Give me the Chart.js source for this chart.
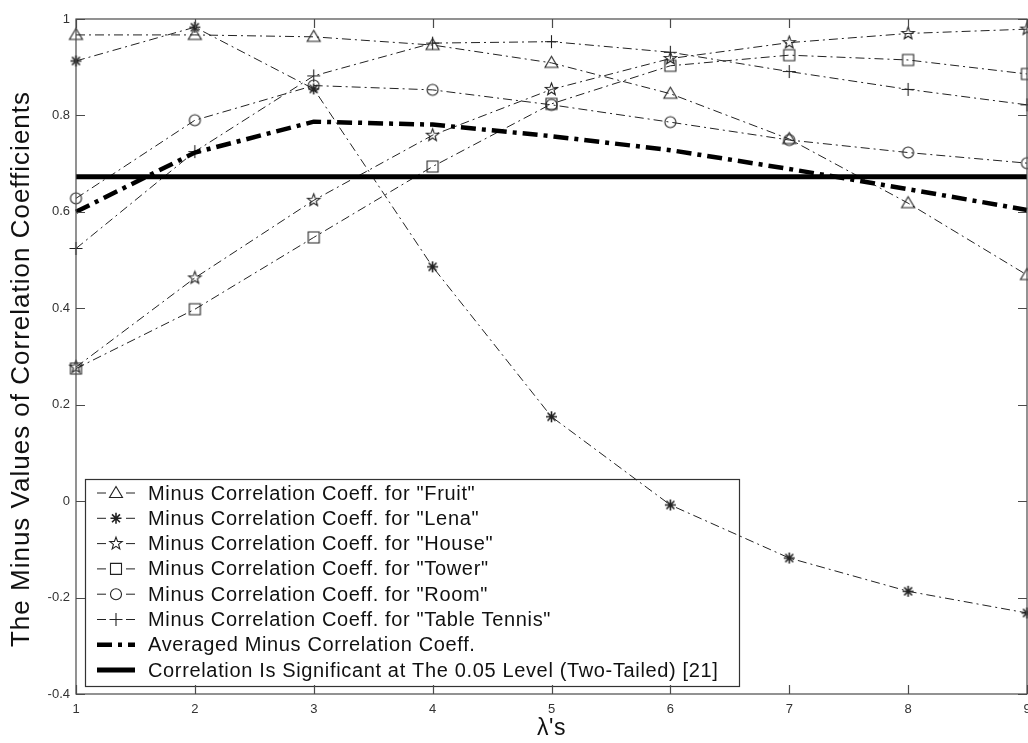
<!DOCTYPE html>
<html>
<head>
<meta charset="utf-8">
<title>Minus Correlation Coefficients vs λ</title>
<script src="https://cdn.jsdelivr.net/npm/chart.js@4.4.1/dist/chart.umd.min.js"></script>
<style>
  html, body { margin: 0; padding: 0; background: #ffffff; overflow: hidden; }
  #wrap { width: 1028px; height: 743px; position: relative; }
  canvas { display: block; }
</style>
</head>
<body>
<div id="wrap"><canvas id="chart" width="1028" height="743"></canvas></div>
<script>
// λ values along the horizontal axis
const lambdas = [1, 2, 3, 4, 5, 6, 7, 8, 9];

// minus correlation coefficient per test image
const fruit  = [0.967, 0.967, 0.963, 0.946, 0.909, 0.845, 0.751, 0.618, 0.469];
const lena   = [0.913, 0.983, 0.855, 0.486, 0.175, -0.008, -0.118, -0.187, -0.232];
const house  = [0.278, 0.463, 0.624, 0.759, 0.854, 0.918, 0.951, 0.970, 0.979];
const tower  = [0.275, 0.398, 0.547, 0.694, 0.824, 0.903, 0.925, 0.915, 0.886];
const room   = [0.628, 0.790, 0.862, 0.853, 0.822, 0.786, 0.749, 0.723, 0.701];
const tennis = [0.524, 0.725, 0.882, 0.950, 0.953, 0.931, 0.891, 0.854, 0.822];
const averaged = [0.600, 0.723, 0.787, 0.781, 0.757, 0.728, 0.689, 0.647, 0.604];
const significanceLevel = 0.673;

// axis ticks
const xTicks = [1, 2, 3, 4, 5, 6, 7, 8, 9];
const yTicks = [-0.4, -0.2, 0, 0.2, 0.4, 0.6, 0.8, 1];

// axis titles
const xTitle = "λ's";
const yTitle = 'The Minus Values of Correlation Coefficients';

// legend texts
const seriesNames = [
  'Minus Correlation Coeff. for "Fruit"',
  'Minus Correlation Coeff. for "Lena"',
  'Minus Correlation Coeff. for "House"',
  'Minus Correlation Coeff. for "Tower"',
  'Minus Correlation Coeff. for "Room"',
  'Minus Correlation Coeff. for "Table Tennis"',
  'Averaged Minus Correlation Coeff.',
  'Correlation Is Significant at The 0.05 Level (Two-Tailed) [21]'
];

const FONT = '"Liberation Sans", Arial, Helvetica, sans-serif';
const INK = '#222222';
const AXIS = '#4a4a4a';

// ---- hollow marker glyphs ----
function drawGlyph(ctx, type, cx, cy) {
  ctx.save();
  ctx.strokeStyle = INK;
  ctx.lineWidth = 1.1;
  ctx.setLineDash([]);
  ctx.beginPath();
  if (type === 'triangle') {
    ctx.moveTo(cx, cy - 6.5);
    ctx.lineTo(cx + 6.5, cy + 4.5);
    ctx.lineTo(cx - 6.5, cy + 4.5);
    ctx.closePath();
  } else if (type === 'asterisk') {
    const r = 5.5, d = r * 0.72;
    ctx.moveTo(cx - r, cy); ctx.lineTo(cx + r, cy);
    ctx.moveTo(cx, cy - r); ctx.lineTo(cx, cy + r);
    ctx.moveTo(cx - d, cy - d); ctx.lineTo(cx + d, cy + d);
    ctx.moveTo(cx - d, cy + d); ctx.lineTo(cx + d, cy - d);
    ctx.lineWidth = 1.6;
  } else if (type === 'pentagram') {
    const ro = 6.5, ri = 2.7;
    for (let i = 0; i < 10; i++) {
      const r = i % 2 === 0 ? ro : ri;
      const a = -Math.PI / 2 + i * Math.PI / 5;
      const px = cx + r * Math.cos(a), py = cy + r * Math.sin(a);
      if (i === 0) ctx.moveTo(px, py); else ctx.lineTo(px, py);
    }
    ctx.closePath();
  } else if (type === 'square') {
    ctx.rect(cx - 5.5, cy - 5.5, 11, 11);
  } else if (type === 'circle') {
    ctx.arc(cx, cy, 5.5, 0, Math.PI * 2);
  } else if (type === 'plus') {
    ctx.moveTo(cx - 6.5, cy); ctx.lineTo(cx + 6.5, cy);
    ctx.moveTo(cx, cy - 6.5); ctx.lineTo(cx, cy + 6.5);
  }
  ctx.stroke();
  ctx.restore();
}

function glyphCanvas(type) {
  const c = document.createElement('canvas');
  c.width = 17; c.height = 17;
  drawGlyph(c.getContext('2d'), type, 8.5, 8.5);
  return c;
}

const markerTypes = ['triangle', 'asterisk', 'pentagram', 'square', 'circle', 'plus'];
const seriesValues = [fruit, lena, house, tower, room, tennis];

const toPoints = vals => lambdas.map((x, i) => ({ x: x, y: vals[i] }));

const datasets = seriesValues.map((vals, i) => ({
  label: seriesNames[i],
  data: toPoints(vals),
  borderColor: INK,
  borderWidth: 1,
  borderDash: [9, 4, 2, 4],
  pointStyle: glyphCanvas(markerTypes[i]),
  pointRadius: 6,
  pointHoverRadius: 6,
  backgroundColor: 'rgba(0,0,0,0)',
  tension: 0,
  clip: false,
  order: 3
}));

datasets.push({
  label: seriesNames[6],
  data: toPoints(averaged),
  borderColor: '#000000',
  borderWidth: 4.5,
  borderDash: [15, 6, 4, 6],
  borderCapStyle: 'butt',
  pointRadius: 0,
  tension: 0,
  clip: false,
  order: 2
});

datasets.push({
  label: seriesNames[7],
  data: [{ x: lambdas[0], y: significanceLevel }, { x: lambdas[lambdas.length - 1], y: significanceLevel }],
  borderColor: '#000000',
  borderWidth: 5,
  pointRadius: 0,
  tension: 0,
  clip: false,
  order: 1
});

// boxed legend, drawn beneath the data lines (they show through it)
const legendPlugin = {
  id: 'legendPlugin',
  beforeDatasetsDraw(chart) {
    const { ctx } = chart;
    ctx.save();
    const box = { left: 85.5, top: 479.5, right: 739.5, bottom: 686.5 };
    ctx.strokeStyle = '#333333';
    ctx.lineWidth = 1.2;
    ctx.setLineDash([]);
    ctx.strokeRect(box.left, box.top, box.right - box.left, box.bottom - box.top);

    const rowTop = 493, rowStep = 25.3;
    const sx0 = 97, sx1 = 135, textX = 148;
    ctx.font = '20px ' + FONT;
    ctx.letterSpacing = '0.65px';
    ctx.textBaseline = 'middle';
    ctx.textAlign = 'left';
    seriesNames.forEach((name, i) => {
      const y = rowTop + i * rowStep;
      ctx.strokeStyle = INK;
      if (i < 6) {
        ctx.lineWidth = 1;
        ctx.beginPath();
        ctx.moveTo(sx0, y); ctx.lineTo(sx0 + 9, y);
        ctx.moveTo(sx1 - 9, y); ctx.lineTo(sx1, y);
        ctx.stroke();
        drawGlyph(ctx, markerTypes[i], (sx0 + sx1) / 2, y);
      } else if (i === 6) {
        ctx.strokeStyle = '#000000';
        ctx.lineWidth = 4.5;
        ctx.setLineDash([15, 6, 4, 6]);
        ctx.beginPath();
        ctx.moveTo(sx0, y); ctx.lineTo(sx1, y);
        ctx.stroke();
        ctx.setLineDash([]);
      } else {
        ctx.strokeStyle = '#000000';
        ctx.lineWidth = 5;
        ctx.beginPath();
        ctx.moveTo(sx0, y); ctx.lineTo(sx1, y);
        ctx.stroke();
      }
      ctx.fillStyle = '#111111';
      ctx.fillText(name, textX, y + 1);
    });
    ctx.letterSpacing = '0px';
    ctx.restore();
  }
};

// frame, inward tick marks and axis titles
const framePlugin = {
  id: 'framePlugin',
  afterDatasetsDraw(chart) {
    const { ctx, chartArea: a, scales } = chart;
    ctx.save();
    ctx.strokeStyle = AXIS;
    ctx.lineWidth = 1.2;
    ctx.setLineDash([]);
    ctx.strokeRect(a.left, a.top, a.right - a.left, a.bottom - a.top);
    ctx.beginPath();
    const tl = 9;
    xTicks.forEach(v => {
      const px = Math.round(scales.x.getPixelForValue(v)) + 0.5;
      ctx.moveTo(px, a.bottom); ctx.lineTo(px, a.bottom - tl);
      ctx.moveTo(px, a.top); ctx.lineTo(px, a.top + tl);
    });
    yTicks.forEach(v => {
      const py = Math.round(scales.y.getPixelForValue(v)) + 0.5;
      ctx.moveTo(a.left, py); ctx.lineTo(a.left + tl, py);
      ctx.moveTo(a.right, py); ctx.lineTo(a.right - tl, py);
    });
    ctx.stroke();

    ctx.fillStyle = '#111111';
    ctx.textAlign = 'center';
    ctx.textBaseline = 'middle';
    ctx.font = '23px ' + FONT;
    ctx.letterSpacing = '0.5px';
    ctx.fillText(xTitle, (a.left + a.right) / 2, 729);
    ctx.save();
    ctx.translate(22, 369);
    ctx.rotate(-Math.PI / 2);
    ctx.font = '26px ' + FONT;
    ctx.letterSpacing = '1px';
    ctx.fillText(yTitle, 0, 0);
    ctx.restore();
    ctx.letterSpacing = '0px';
    ctx.restore();
  }
};

new Chart(document.getElementById('chart'), {
  type: 'line',
  data: { datasets },
  plugins: [legendPlugin, framePlugin],
  options: {
    responsive: false,
    animation: false,
    events: [],
    layout: { autoPadding: false, padding: { top: 19, right: 1, left: 0, bottom: 0 } },
    plugins: {
      legend: { display: false },
      tooltip: { enabled: false },
      title: { display: false }
    },
    scales: {
      x: {
        type: 'linear',
        min: 1,
        max: 9,
        grid: { display: false, drawTicks: false },
        border: { display: false },
        afterBuildTicks: s => { s.ticks = xTicks.map(v => ({ value: v })); },
        afterFit: s => { s.height = 49; s.paddingLeft = 0; s.paddingRight = 0; },
        ticks: {
          padding: 8,
          color: '#333333',
          font: { family: FONT, size: 13 },
          maxRotation: 0,
          autoSkip: false,
          callback: v => String(v)
        }
      },
      y: {
        type: 'linear',
        min: -0.4,
        max: 1,
        grid: { display: false, drawTicks: false },
        border: { display: false },
        afterBuildTicks: s => { s.ticks = yTicks.map(v => ({ value: v })); },
        afterFit: s => { s.width = 76; s.paddingTop = 0; s.paddingBottom = 0; },
        ticks: {
          padding: 6,
          color: '#333333',
          font: { family: FONT, size: 13 },
          autoSkip: false,
          callback: v => String(Number(v.toFixed(1)))
        }
      }
    }
  }
});
</script>
</body>
</html>
